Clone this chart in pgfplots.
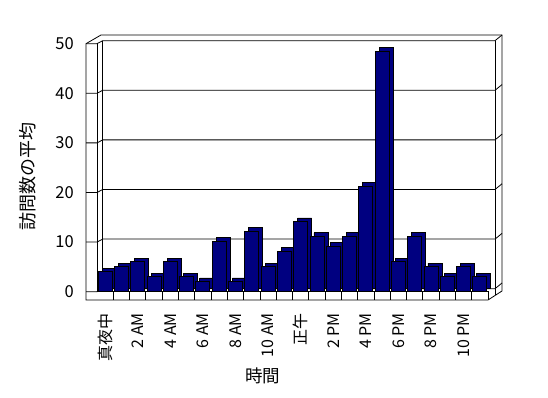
\documentclass[border=0pt]{standalone}
\usepackage{fontspec}
\setmainfont{Noto Sans CJK JP}
\usepackage{pgfplots}
\usepackage{pgfplotstable}
\pgfplotsset{compat=1.18}
\definecolor{navy}{RGB}{0,0,128}
\pgfplotstableread{
h v
0 4.1
1 5.1
2 6.1
3 3.1
4 6.1
5 3.1
6 2.1
7 10.2
8 2.1
9 12.2
10 5.1
11 8.2
12 14.2
13 11.2
14 9.2
15 11.2
16 21.3
17 48.5
18 6.1
19 11.2
20 5.1
21 3.1
22 5.1
23 3.1
}\visits
\begin{document}
\begin{tikzpicture}
\path[use as bounding box] (0,0) rectangle (548pt,398pt);
% 3D frame (walls, floor, gridlines) in image pixel coordinates
\begin{scope}[x=1pt,y=-1pt,shift={(0pt,398pt)},line width=0.8pt]
\foreach \v in {0,10,...,50}{
  \pgfmathsetmacro\yf{291.7-4.96*\v}
  \draw (86,\yf) -- (97,\yf) -- (102.7,\yf-3) -- (495,\yf-3) -- (502,\yf-8.7);
}
\draw (86,300) -- (86,43.7) -- (101,35) -- (502,35) -- (502,291) -- (488,300) -- cycle;
\draw (97,43.7) -- (97,291.7);
\draw (102.7,40.7) -- (102.7,288.7);
\draw (495,40.7) -- (495,295);
\draw (97,291.7) -- (488,291.7) -- (488,300);
\foreach \k in {1,...,23}{
  \pgfmathsetmacro\xs{97+16.29*\k}
  \draw (\xs,291.7) -- (\xs,300);
}
\end{scope}
\begin{axis}[
  at={(97pt,106.3pt)}, anchor=south west,
  scale only axis, width=391pt, height=248pt,
  xmin=-0.5, xmax=23.5, ymin=0, ymax=50,
  clip=false,
  axis line style={draw=none},
  major tick length=0pt,
  xtick={0,2,...,22},
  xticklabels={真夜中,2 AM,4 AM,6 AM,8 AM,10 AM,正午,2 PM,4 PM,6 PM,8 PM,10 PM},
  ytick={0,10,...,50},
  /pgf/number format/assume math mode=true,
  xticklabel style={yshift=-21.3pt, rotate=90, anchor=east, inner sep=0pt, font=\fontsize{16}{16}\selectfont},
  yticklabel style={anchor=east, inner sep=0pt, xshift=-23pt, font=\fontsize{16.5}{16.5}\selectfont},
  xlabel={時間},
  ylabel={訪問数の平均},
  xlabel style={at={(axis description cs:0.4233,-0.338)}, anchor=center, inner sep=0pt, font=\fontsize{17.5}{17.5}\selectfont},
  ylabel style={at={(axis description cs:-0.1765,0.4665)}, rotate=0, anchor=center, inner sep=0pt, font=\fontsize{18}{18}\selectfont},
]
\addplot[ybar, bar width=14pt, bar shift=0pt, xshift=4pt, yshift=3.3pt, fill=navy, draw=black, line width=0.8pt] table[x=h,y=v] {\visits};
\addplot[ybar, bar width=14pt, bar shift=0pt, fill=navy, draw=black, line width=0.8pt] table[x=h,y=v] {\visits};
\end{axis}
\end{tikzpicture}
\end{document}
